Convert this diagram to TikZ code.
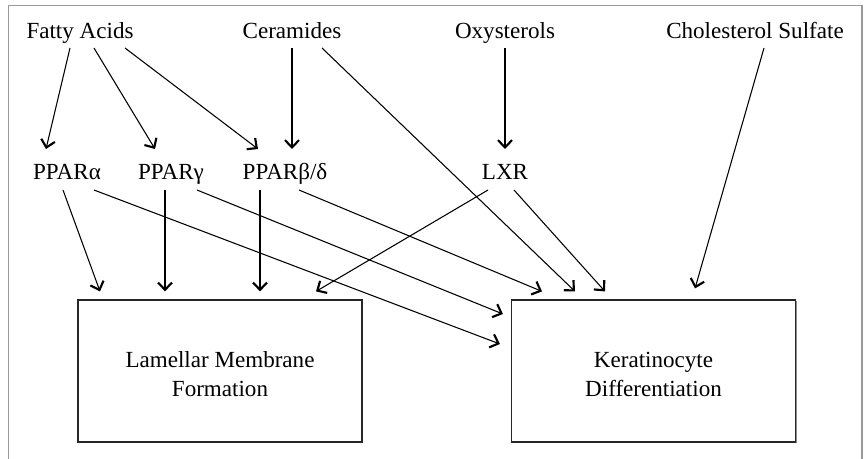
\documentclass[tikz,border=0pt]{standalone}
\usepackage{fontspec}
\setmainfont{Liberation Serif}
\usetikzlibrary{arrows.meta,calc,shadows}
\begin{document}
\begin{tikzpicture}[x=0.75pt,y=-0.75pt,
  lbl/.style={inner sep=0pt,anchor=base,font=\fontsize{17.3}{21.75}\selectfont},
  boxnode/.style={draw=black!85,line width=0.9pt,fill=white,minimum width=213pt,minimum height=106.5pt,
    inner sep=0pt,align=center,font=\fontsize{17.3}{21.75}\selectfont,
    drop shadow={shadow xshift=0.8pt,shadow yshift=-0.8pt,fill=black!45,opacity=1}},
  arr/.style={line width=0.8pt,-{Straight Barb[length=5.5pt,width=10.5pt,line width=1.6pt]}},
  frame/.style={draw=black!40,line width=1.2pt}]
\useasboundingbox (0,0) rectangle (864,458);
\draw[frame] (8.5,470) -- (8.5,5.5) -- (862,5.5) -- (862,470);
% top row
\node[lbl] (fa)  at (80,38)  {Fatty Acids};
\node[lbl] (cer) at (292,38) {Ceramides};
\node[lbl] (oxy) at (505,38) {Oxysterols};
\node[lbl] (cs)  at (755,38) {Cholesterol Sulfate};
% middle row
\node[lbl] (pa)  at (67,179)  {PPARα};
\node[lbl] (pg)  at (171,179) {PPARγ};
\node[lbl] (pbd) at (285,179) {PPARβ/δ};
\node[lbl] (lxr) at (505,179.5) {LXR};
% boxes
\node[boxnode] (lam) at (220,371) {\rule{0pt}{17.2pt}Lamellar Membrane\\Formation};
\node[boxnode] (ker) at (653.5,371) {\rule{0pt}{17.2pt}Keratinocyte\\Differentiation};
% top -> middle
\draw[arr] ($(fa.base)+(-10,10)$) -- ($(pa.base)+(-21,-30)$);
\draw[arr] ($(fa.base)+(14,10)$)  -- ($(pg.base)+(-16,-30)$);
\draw[arr] ($(fa.base)+(45,10)$)  -- ($(pbd.base)+(-27,-30)$);
\draw[arr] ($(cer.base)+(0,10)$)  -- ($(pbd.base)+(7,-30)$);
\draw[arr] ($(oxy.base)+(0,10)$)  -- ($(lxr.base)+(0,-30.5)$);
\draw[arr] ($(cer.base)+(30,10)$) -- ($(ker.north)+(-78.5,-8)$);
\draw[arr] ($(cs.base)+(9,10)$)   -- ($(ker.north)+(41.5,-11)$);
% middle -> boxes
\draw[arr] ($(pa.base)+(-4,11)$)  -- ($(lam.north)+(-120,-8)$);
\draw[arr] ($(pg.base)+(-6,11)$)  -- ($(lam.north)+(-55,-8)$);
\draw[arr] ($(pbd.base)+(-25,11)$) -- ($(lam.north)+(40,-8)$);
\draw[arr] ($(lxr.base)+(-17,10.5)$) -- ($(lam.north)+(96,-8)$);
\draw[arr] ($(pa.base)+(27,11)$)  -- ($(ker.west)+(-11,-27)$);
\draw[arr] ($(pg.base)+(26,11)$)  -- ($(ker.west)+(-8,-57)$);
\draw[arr] ($(pbd.base)+(14,11)$) -- ($(ker.north)+(-111.5,-8)$);
\draw[arr] ($(lxr.base)+(9,10.5)$) -- ($(ker.north)+(-48.5,-8)$);
\end{tikzpicture}
\end{document}
